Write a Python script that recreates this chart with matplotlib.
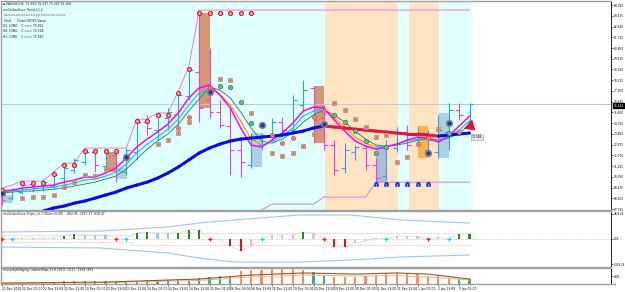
import matplotlib
matplotlib.use("Agg")
import matplotlib.pyplot as plt
from matplotlib.patches import Rectangle

plt.rcParams['font.family'] = ['DejaVu Sans']

# ---- price bars (H4) ----
opens = [69.11, 68.62, 69.11, 69.76, 69.44, 69.60, 70.25, 70.90, 71.55, 72.37, 71.23, 72.13, 70.74, 72.37, 74.81, 74.16,
         75.14, 75.47, 76.93, 78.89, 76.61, 75.63, 74.49, 72.53, 71.31, 72.94, 73.67, 74.81, 74.16, 76.20, 77.59, 75.14,
         72.94, 71.07, 72.37, 72.70, 71.31, 70.41, 72.70, 74.00, 73.35, 72.53, 72.37, 74.00, 75.79, 74.81]
highs = [69.27, 69.44, 69.92, 70.01, 70.17, 70.74, 71.23, 71.88, 72.61, 72.70, 72.53, 72.37, 72.70, 75.14, 75.39, 75.63,
         75.96, 77.26, 79.22, 83.70, 80.85, 76.61, 76.04, 73.35, 73.92, 73.92, 75.14, 75.22, 77.02, 78.24, 77.75, 76.20,
         73.35, 73.10, 72.94, 72.94, 71.88, 73.35, 74.41, 74.57, 74.49, 74.16, 75.39, 76.36, 76.36, 76.36]
lows = [68.05, 68.46, 68.95, 69.11, 69.19, 69.35, 69.76, 70.66, 71.31, 70.74, 70.90, 69.92, 70.50, 71.72, 73.76, 73.35,
        74.16, 74.16, 76.61, 74.81, 75.14, 74.33, 70.50, 70.33, 71.07, 72.53, 73.35, 74.00, 73.92, 75.63, 73.10, 72.53,
        70.50, 70.66, 71.72, 70.90, 69.92, 70.09, 72.37, 72.53, 72.94, 72.13, 71.88, 72.53, 74.98, 74.57]
closes = [68.46, 69.27, 69.68, 69.44, 69.92, 70.50, 71.07, 71.72, 72.37, 71.31, 72.29, 70.90, 72.53, 74.81, 74.33, 75.30,
          75.63, 77.02, 79.05, 75.96, 75.63, 74.57, 72.53, 71.55, 73.35, 73.76, 74.81, 74.16, 76.61, 77.42, 74.98, 72.94,
          70.90, 72.53, 72.78, 71.31, 70.25, 72.94, 74.00, 72.94, 73.51, 73.35, 74.16, 75.79, 75.39, 76.27]
bid = 76.266

# ---- indicator lines ----
ma_fast = [69.19, 69.27, 69.44, 69.52, 69.60, 69.68, 69.92, 70.09, 70.33, 70.33, 70.66, 71.07, 71.88, 72.78, 73.43, 74.00,
           74.65, 75.55, 76.77, 77.59, 77.83, 77.02, 75.96, 74.33, 72.94, 72.78, 73.35, 73.92, 74.73, 75.71, 76.04, 75.96,
           74.98, 74.08, 73.27, 72.86, 72.61, 72.78, 73.02, 73.35, 73.59, 73.51, 73.18, 73.67, 74.49, 75.30]
ma_mid = [69.11, 69.19, 69.27, 69.35, 69.44, 69.52, 69.68, 69.84, 70.09, 70.17, 70.41, 70.74, 71.39, 72.29, 73.02, 73.59,
          74.24, 75.06, 76.20, 77.18, 77.50, 77.10, 76.20, 74.90, 73.43, 72.94, 73.18, 73.67, 74.33, 75.30, 75.71, 75.79,
          75.14, 74.41, 73.59, 73.10, 72.78, 72.86, 73.02, 73.27, 73.43, 73.51, 73.27, 73.59, 74.16, 74.90]
ma_green = [69.03, 69.11, 69.19, 69.19, 69.27, 69.35, 69.44, 69.60, 69.76, 69.92, 70.17, 70.41, 70.98, 71.80, 72.61, 73.27,
            73.84, 74.65, 75.71, 76.69, 77.67, 77.42, 76.77, 75.63, 74.33, 73.27, 73.10, 73.43, 74.00, 74.81, 75.39, 75.79,
            75.39, 74.81, 74.08, 73.43, 72.94, 72.86, 72.94, 73.10, 73.35, 73.43, 73.35, 73.51, 73.92, 74.57]
trend_start = 4
ma_trend = [67.56, 67.81, 67.97, 68.21, 68.38, 68.62, 68.87, 69.11, 69.44, 69.68, 69.92, 70.25, 70.66, 71.15, 71.72,
            72.29, 72.70, 73.02, 73.27, 73.43, 73.51, 73.59, 73.67, 73.76, 73.92, 74.08, 74.33, 74.49, 74.41, 74.33,
            74.24, 74.16, 74.08, 74.00, 73.92, 73.84, 73.84, 73.76, 73.67, 73.76, 73.84, 73.92]
trend_red = (31, 42)

upper_band = [69.43, 69.68, 70.01, 70.01, 70.01, 70.74, 71.47, 71.47, 72.70, 72.70, 72.70, 72.70, 72.70, 75.06, 75.06,
              75.55, 75.55, 77.34, 79.30] + [83.94] * 27
lower_start = 25
lower_band = [67.65] + [68.13] * 5 + [68.70] * 5 + [69.92] * 10

# zones and highlight boxes (bar, top, bottom, kind)
peach_zones = [(31.15, 38.1), (39.15, 42.1)]
cyan_end = 45.2
box_bars = [0, 10, 11, 19, 24, 30, 36, 40, 42]
box_top = [68.87, 72.37, 71.07, 83.70, 73.92, 77.75, 72.86, 74.49, 75.55]
box_bot = [68.21, 70.74, 70.17, 75.96, 71.15, 73.10, 69.92, 71.88, 71.88]
box_kind = ['blue', 'brown', 'blue', 'brown', 'blue', 'brown', 'steel', 'orange', 'blue']

# signal markers
hi_mark_bars = [0, 2, 3, 4, 5, 6, 7, 8, 9, 10, 11, 13, 14, 15, 16, 17, 18, 19, 20, 21, 22, 23, 24]
hi_mark_vals = [69.27, 69.84, 69.84, 69.84, 70.58, 71.31, 71.31, 72.45, 72.45, 72.45, 72.45, 74.90, 74.90, 75.39, 75.39,
                77.18, 79.13, 83.70, 83.70, 83.70, 83.70, 83.70, 83.70]
sq_bars = [2, 3, 4, 5, 6, 7, 8, 9, 10, 15, 16, 17, 18, 21, 22, 24, 26, 27, 28, 29, 30, 32, 33, 34, 35, 36, 37, 38, 39, 42]
sq_vals = [68.62, 68.70, 68.70, 68.87, 69.52, 69.92, 70.50, 70.41, 70.98, 73.02, 73.35, 73.92, 74.81, 78.32, 78.24, 75.55,
           72.29, 72.04, 72.29, 72.86, 73.84, 76.36, 75.79, 75.06, 74.41, 73.59, 73.76, 71.55, 71.96, 74.24]
gc_bars = [21, 22, 23, 24, 32, 33, 34, 35, 36, 37, 43]
gc_vals = [77.75, 77.67, 76.44, 74.73, 75.39, 74.81, 74.08, 73.27, 72.29, 72.78, 73.92]
dot_bars = [0, 12, 20, 25, 31, 41, 43]
dot_vals = [69.03, 71.96, 77.26, 74.57, 74.65, 72.29, 74.73]
rx_bars = [17, 18, 20, 26, 27, 28, 30, 31, 40, 41, 44]
rx_vals = [74.33, 75.22, 77.59, 73.76, 73.10, 73.51, 75.22, 75.71, 73.02, 73.51, 74.00]
arch_bars = [36, 37, 38, 39, 40, 41]
arch_val = 69.80
end_label = "73.586"
end_label_val = 73.59

price_ticks = [84.350, 83.475, 82.600, 81.725, 80.850, 79.975, 79.100, 78.225, 77.350, 76.475, 75.600, 74.725,
               73.850, 72.975, 72.100, 71.225, 70.350, 69.475, 68.600, 67.725]

# ---- slope oscillator (sub window 1) ----
slope_vals = [0, 0, 113, 113, 113, 113, 339, 565, 452, 452, 452, 0, 0, 678, 791, 678, 678, 678, 1017, 1017, 0, -113,
              -791, -1356, -791, 0, 452, 452, 452, 791, 678, 0, -904, -904, -452, -226, 113, 0, 339, 339, 339, 0, 226,
              0, 565, 565]
slope_kind = ['xr', 'xc', 'n', 'n', 'n', 'n', 'g', 'g', 'b', 'b', 'b', 'xr', 'xc', 'g', 'g', 'b', 'b', 'g', 'g', 'g',
              'xr', 'n', 'r', 'r', 'p', 'xc', 'n', 'n', 'n', 'g', 'n', 'xr', 'r', 'r', 'n', 'n', 'n', 'xc', 'n', 'n',
              'n', 'xr', 'n', 'xc', 'g', 'g']
env_bars = [0, 9.5, 16, 19, 22.3, 28.7, 33.6, 38.4, 45]
env_up = [791, 904, 1357, 1809, 2148, 2713, 2713, 2148, 1809]
env_lo = [-904, -1017, -1583, -2148, -2600, -2600, -2374, -2035, -1809]
lvl_bars = [0, 12.5, 12.5, 45]
lvl_up = [452, 452, 678, 678]
lvl_lo = [-339, -339, -678, -678]

# ---- channel gap (sub window 2) ----
gap_vals = [6, 6, 6, 6, 9, 12, 17, 17, 19, 19, 19, 19, 21, 21, 23, 25, 25, 29, 33, 39, 44, 48, 52, 79, 86, 86, 94, 94,
            94, 85, 75, 50, 44, 44, 44, 48, 58, 63, 67, 71, 63, 50, 48, 38, 31, 31]
gap_kind = list("ggggggggggggggggggggggg" + "ooooooo" + "gg" + "oooooooooooo" + "gg")
gap_line_bars = [0, 10, 19, 24, 29, 34, 38, 41, 45]
gap_brown = [6, 12, 31, 56, 69, 62, 69, 62, 31]
gap_tan = [3, 8, 22, 44, 56, 50, 52, 44, 25]

time_labels = ["22 Dec 2020", "22 Dec 05:00", "22 Dec 13:00", "22 Dec 21:00", "23 Dec 05:00", "23 Dec 13:00",
               "23 Dec 21:00", "24 Dec 05:00", "24 Dec 13:00", "24 Dec 21:00", "25 Dec 05:00", "26 Dec 09:00",
               "28 Dec 13:00", "28 Dec 21:00", "29 Dec 05:00", "29 Dec 13:00", "29 Dec 21:00", "30 Dec 05:00",
               "31 Dec 13:00", "31 Dec 21:00", "1 Jan 05:00", "2 Jan 13:00", "3 Jan 05:00"]

header = ["\u25aa XAUUSD,H4  75.660 76.237 75.243 76.266",
          "smGoldenDose Trend_v1.2",
          "=========================",
          "Trend      Close:CROSS:Value",
          "D1: LONG    C ==> 75.862",
          "H4: LONG    C ==> 74.528",
          "H1: LONG    C ==> 75.667"]

n = len(closes)
bars = list(range(n))
xmax = -0.05 + 610 / 10.4

fig = plt.figure(figsize=(6.25, 2.92), dpi=100)
ax = fig.add_axes([1 / 625, 82 / 292, 610 / 625, 209 / 292])
ax1 = fig.add_axes([1 / 625, 25 / 292, 610 / 625, 56 / 292])
ax2 = fig.add_axes([1 / 625, 8 / 292, 610 / 625, 16 / 292])

for a in (ax, ax1, ax2):
    a.set_xlim(-0.05, xmax)
    a.set_facecolor("white")
    for s in a.spines.values():
        s.set_color("#a0a0a0")
        s.set_linewidth(1.0)
    a.spines["right"].set_color("black")
    a.spines["right"].set_linewidth(0.6)
    a.yaxis.tick_right()
    a.tick_params(axis="y", labelsize=2.1, length=1.5, width=0.4, pad=0.4)
    a.set_xticks([])

# ---- main chart ----
ax.set_ylim(67.65, 84.68)
ax.axvspan(-0.05, cyan_end, color="#e0ffff", zorder=0, lw=0)
for z0, z1 in peach_zones:
    ax.axvspan(z0, z1, color="#ffe4c4", zorder=0.1, lw=0)

box_colors = {'blue': '#aad2e0', 'brown': '#d39872', 'steel': '#aabed8', 'orange': '#ffb446'}
for b, t, bt, k in zip(box_bars, box_top, box_bot, box_kind):
    ax.add_patch(Rectangle((b, bt), 1.02, t - bt, facecolor=box_colors[k], edgecolor="none", zorder=1))

ax.axhline(bid, color="#b8c8d8", lw=0.7, zorder=1.5)
ax.plot(bars, upper_band, color="#e77be7", lw=0.7, zorder=2)
ax.plot(range(lower_start, lower_start + len(lower_band)), lower_band, color="#d77fdd", lw=0.7, zorder=2)

# OHLC bars
up_c, dn_c = "#3a9af0", "#f03cf0"
for i in bars:
    c = up_c if closes[i] >= opens[i] else dn_c
    ax.vlines(i, lows[i], highs[i], color=c, lw=0.8, zorder=3)
    ax.hlines(opens[i], i - 0.38, i, color=c, lw=0.8, zorder=3)
    ax.hlines(closes[i], i, i + 0.38, color=c, lw=0.8, zorder=3)

# moving averages
ax.plot(bars, ma_green, color="#3c8c55", lw=0.7, zorder=4)
for i in range(1, n):
    c = "#ffa000" if ma_mid[i] < ma_mid[i - 1] else "#00d5f5"
    ax.plot([i - 1, i], [ma_mid[i - 1], ma_mid[i]], color=c, lw=0.9, zorder=4)
ax.plot(bars, ma_fast, color="#ff00ff", lw=1.1, zorder=4.2)

tb = list(range(trend_start, trend_start + len(ma_trend)))
for i in range(1, len(tb)):
    c = "#e6143c" if trend_red[0] <= tb[i] <= trend_red[1] and tb[i - 1] >= trend_red[0] else "#0a0ae6"
    ax.plot(tb[i - 1:i + 1], ma_trend[i - 1:i + 1], color=c, lw=2.2, zorder=4.5, solid_capstyle="round")

# markers
ax.plot(hi_mark_bars, hi_mark_vals, "o", ms=3.2, mfc="#ff7070", mec="#d00000", mew=0.5, zorder=6)
ax.plot(hi_mark_bars, hi_mark_vals, "|", ms=1.8, color="white", mew=0.5, zorder=6.1)
ax.plot(sq_bars, sq_vals, "s", ms=3.0, mfc="#f6e8de", mec="#b8785a", mew=0.5, zorder=6)
ax.plot(sq_bars, sq_vals, "s", ms=1.0, color="#b8785a", zorder=6.1)
ax.plot(gc_bars, gc_vals, "o", ms=3.2, mfc="#a8d8a8", mec="#2e8b57", mew=0.6, zorder=6)
ax.plot(gc_bars, gc_vals, "x", ms=1.6, color="#2e8b57", mew=0.5, zorder=6.1)
ax.plot(rx_bars, rx_vals, "o", ms=3.0, mfc="#ffb0b0", mec="#e04040", mew=0.5, zorder=6)
ax.plot(rx_bars, rx_vals, "x", ms=1.5, color="#e04040", mew=0.5, zorder=6.1)
ax.plot(dot_bars, dot_vals, "o", ms=4.6, mfc="#6b7890", mec="#808080", mew=0.6, zorder=6)
ax.plot(dot_bars, dot_vals, "o", ms=1.6, color="#2030b0", zorder=6.1)
ax.plot(arch_bars, [arch_val] * len(arch_bars), marker=r"$\cap$", ls="none", ms=2.6, color="#1a3cdc", zorder=6)

ax.annotate("", xy=(n - 1 + 0.75, ma_trend[-1] + 0.05), xytext=(n - 1 + 0.1, ma_trend[-1] + 0.55),
            arrowprops=dict(arrowstyle="simple,head_width=0.9,head_length=0.7,tail_width=0.45",
                            color="#e8102c", lw=0), zorder=7)
ax.text(n - 1 + 0.2, end_label_val, end_label, fontsize=2.2, va="center", ha="left", zorder=7,
        bbox=dict(boxstyle="square,pad=0.25", fc="#e8e8e8", ec="#909090", lw=0.4))

ax.set_yticks(price_ticks)
ax.set_yticklabels([f"{v:.3f}" for v in price_ticks])
ax.annotate(f"{bid:.3f}", xy=(1.0, bid), xycoords=("axes fraction", "data"), xytext=(1.6, -1.2),
            textcoords="offset points", fontsize=2.1, color="white", va="center", ha="left",
            bbox=dict(boxstyle="square,pad=0.15", fc="black", ec="black"), annotation_clip=False, zorder=8)

ax.text(0.004, 0.993, "\n".join(header), transform=ax.transAxes, fontsize=2.2, va="top", ha="left",
        linespacing=1.45, color="#202020", zorder=9)

# ---- slope oscillator ----
ax1.set_ylim(-3165, 3165)
ax1.axhline(0, color="#a8a8a8", lw=0.5, ls=(0, (1, 1.5)), zorder=1)
ax1.plot(env_bars, env_up, color="#9cc8f2", lw=0.8, zorder=2)
ax1.plot(env_bars, env_lo, color="#9cc8f2", lw=0.8, zorder=2)
ax1.plot(lvl_bars, lvl_up, color="#ff8c8c", lw=0.5, ls=(0, (1, 1.2)), zorder=2)
ax1.plot(lvl_bars, lvl_lo, color="#ff8c8c", lw=0.5, ls=(0, (1, 1.2)), zorder=2)
ax1.plot(bars, slope_vals, color="#d6d6d6", lw=0.5, zorder=2.5)
slope_colors = {'g': '#1e8c1e', 'r': '#e81010', 'b': '#8fd0ee', 'n': '#cccccc', 'p': '#ffb0b0'}
for i, (v, k) in enumerate(zip(slope_vals, slope_kind)):
    if k == 'xr':
        ax1.plot(i, v, "+", ms=3.2, mew=0.9, color="#ff2020", zorder=4)
    elif k == 'xc':
        ax1.plot(i, v, "+", ms=3.2, mew=0.9, color="#00e0f0", zorder=4)
    else:
        ax1.bar(i, v, width=0.2, color=slope_colors[k], zorder=3)
ax1.set_yticks([2826.24, 0, -2826.24])
ax1.set_yticklabels(["2826.24", "0.00", "-2826.24"])
ax1.tick_params(axis="y", labelsize=1.8)
ax1.text(0.004, 0.985, "smGoldenDose Slope_v1.1 (Filter=0.00)   -882.95  2013.37  828.47",
         transform=ax1.transAxes, fontsize=2.2, va="top", ha="left", color="#202020")

# ---- channel gap ----
ax2.set_ylim(0, 100)
gap_colors = {'g': '#3cb371', 'o': '#ff8c50'}
ax2.bar(bars, gap_vals, width=0.2, color=[gap_colors[k] for k in gap_kind], zorder=2)
ax2.plot(gap_line_bars, gap_tan, color="#deb887", lw=0.7, zorder=3)
ax2.plot(gap_line_bars, gap_brown, color="#a0522d", lw=0.8, zorder=3)
ax2.set_yticks([48, 0])
ax2.set_yticklabels(["48%", "0"])
ax2.text(0.004, 0.97, "smLuckyHedging ChannelGap_v1.0 (10.0, 14.1)   1264  892",
         transform=ax2.transAxes, fontsize=2.2, va="top", ha="left", color="#202020")

tick_pos = list(range(0, 2 * len(time_labels), 2))
ax2.set_xticks(tick_pos)
ax2.set_xticklabels(time_labels)
ax2.tick_params(axis="x", labelsize=2.2, length=1.5, width=0.4, pad=0.6)
for lab in ax2.get_xticklabels():
    lab.set_horizontalalignment("left")

fig.savefig("out.png", dpi=100, facecolor="white")
